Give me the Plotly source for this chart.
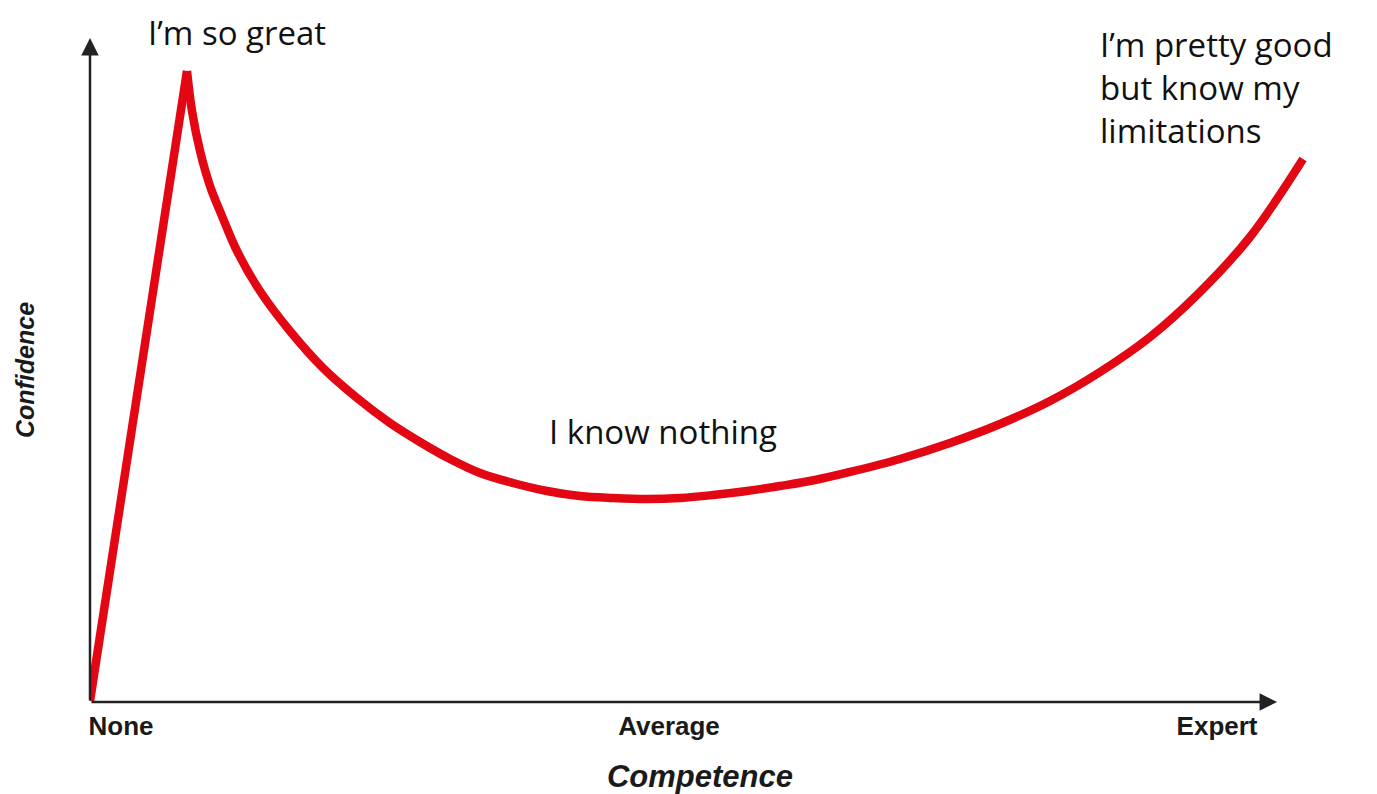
import plotly.graph_objects as go

# Competence (x) vs confidence (y), arbitrary 0-100 units
competence = [0, 7.95, 8.36, 9.02, 9.84, 10.82, 12.05, 13.93, 16.39, 19.10, 21.89,
              24.59, 27.05, 29.51, 31.97, 34.67, 37.46, 40.16, 42.87, 45.66, 48.36,
              51.07, 53.85, 56.56, 59.43, 62.30, 66.39, 70.49, 74.59, 78.69, 82.79,
              86.89, 90.98, 95.08, 99.43]
confidence = [0.15, 95.03, 89.01, 82.98, 77.71, 73.19, 67.92, 61.90, 55.87, 50.30, 45.78,
              42.02, 39.16, 36.60, 34.49, 32.98, 31.78, 31.02, 30.72, 30.57, 30.72,
              31.17, 31.78, 32.53, 33.43, 34.64, 36.60, 39.01, 41.87, 45.33, 49.70,
              54.97, 61.75, 70.03, 81.78]

tick_positions = [2.54, 47.46, 92.38]
tick_labels = ["None", "Average", "Expert"]

stage_labels = ["I’m so great", "I know nothing", "I’m pretty good<br>but know my<br>limitations"]

RED = "#e30613"
AXIS_COLOR = "#222222"
LABEL_FONT = dict(family="'Open Sans', Lato, sans-serif", size=33, color="#111111")
BOLD_FONT = "Liberation Sans, Arial, sans-serif"

fig = go.Figure()
# steep rise to the peak (straight segment)
fig.add_trace(go.Scatter(x=competence[:2], y=confidence[:2], mode="lines",
                         line=dict(color=RED, width=8.5), hoverinfo="skip",
                         showlegend=False, cliponaxis=False))
# smooth curve after the peak
fig.add_trace(go.Scatter(x=competence[1:], y=confidence[1:], mode="lines",
                         line=dict(color=RED, width=8.5, shape="spline", smoothing=1),
                         hoverinfo="skip", showlegend=False, cliponaxis=False))

annotations = [
    # y-axis arrow
    dict(x=0, y=100, ax=0, ay=0, xref="x", yref="y", axref="x", ayref="y",
         showarrow=True, arrowhead=2, arrowsize=1.4, arrowwidth=2.5,
         arrowcolor=AXIS_COLOR, text=""),
    # x-axis arrow
    dict(x=97.3, y=0, ax=0, ay=0, xref="x", yref="y", axref="x", ayref="y",
         showarrow=True, arrowhead=2, arrowsize=1.4, arrowwidth=2.5,
         arrowcolor=AXIS_COLOR, text=""),
    dict(x=12.05, y=1.045, xref="x", yref="paper", text=stage_labels[0], showarrow=False,
         font=LABEL_FONT, xanchor="center", yanchor="top"),
    dict(x=46.97, y=40.8, xref="x", yref="y", text=stage_labels[1], showarrow=False,
         font=LABEL_FONT, xanchor="center", yanchor="middle"),
    dict(x=82.6, y=1.027, xref="x", yref="paper", text=stage_labels[2], showarrow=False,
         font=LABEL_FONT, xanchor="left", yanchor="top", align="left"),
]

fig.update_layout(
    width=1369, height=786,
    margin=dict(l=82, r=67, t=30, b=92),
    paper_bgcolor="white", plot_bgcolor="white",
    showlegend=False,
    annotations=annotations,
    xaxis=dict(range=[0, 100], showgrid=False, zeroline=False, showline=False,
               automargin=False,
               tickvals=tick_positions, ticktext=tick_labels, ticks="",
               ticklabelstandoff=6,
               tickfont=dict(family=BOLD_FONT, size=26, color="#1a1a1a", weight="bold"),
               title=dict(text="<b><i>Competence</i></b>", standoff=28,
                          font=dict(family=BOLD_FONT, size=31, color="#1a1a1a")),
               fixedrange=True),
    yaxis=dict(range=[0, 100], showgrid=False, zeroline=False, showline=False,
               automargin=False,
               showticklabels=False, ticks="",
               title=dict(text="<b><i>Confidence</i></b>", standoff=47,
                          font=dict(family=BOLD_FONT, size=25, color="#1a1a1a")),
               fixedrange=True),
)

fig.write_html("out.html")
